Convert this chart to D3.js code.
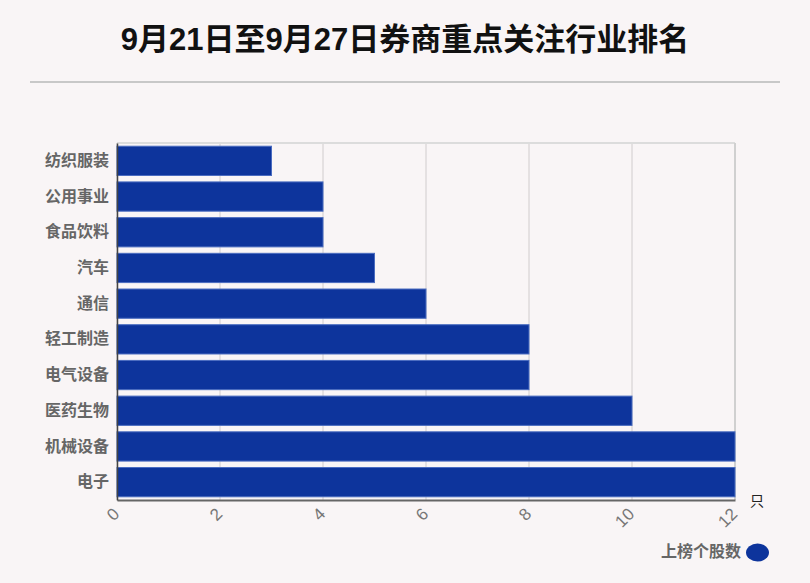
<!DOCTYPE html>
<html><head><meta charset="utf-8">
<script src="https://cdn.jsdelivr.net/npm/d3@7/dist/d3.min.js"></script>
<style>
html,body{margin:0;padding:0;background:#f9f5f6;}
svg{display:block;}
</style></head>
<body>
<svg id="c" width="810" height="583"></svg>
<script>
const categories = ["纺织服装","公用事业","食品饮料","汽车","通信","轻工制造","电气设备","医药生物","机械设备","电子"];
const values = [3,4,4,5,6,8,8,10,12,12];
const xTicks = [0,2,4,6,8,10,12];
const title = "9月21日至9月27日券商重点关注行业排名";
const seriesName = "上榜个股数";
const unit = "只";

const svg = d3.select("#c");
const W = 810, H = 583;
const m = {left:117, right:735, top:143, bottom:500};
const font = "'Liberation Sans','Noto Sans CJK SC',sans-serif";

svg.append("rect").attr("width",W).attr("height",H).attr("fill","#f9f5f6");

svg.append("text").attr("x",W/2).attr("y",50).attr("text-anchor","middle")
  .attr("font-family",font).attr("font-weight","bold").attr("font-size",31)
  .attr("fill","#111").text(title);
svg.append("line").attr("x1",30).attr("x2",780).attr("y1",82).attr("y2",82)
  .attr("stroke","#c8c8c8").attr("stroke-width",2);

const x = d3.scaleLinear().domain([0,12]).range([m.left,m.right]);
const y = d3.scaleBand().domain(categories).range([m.top,m.bottom]).paddingInner(0.18).paddingOuter(0.09);

// grid
const g = svg.append("g");
g.selectAll("line.grid").data(xTicks).enter().append("line")
  .attr("x1",d=>x(d)).attr("x2",d=>x(d)).attr("y1",m.top).attr("y2",m.bottom)
  .attr("stroke","#d0cccd").attr("stroke-width",1);
g.append("line").attr("x1",m.left).attr("x2",m.right).attr("y1",m.top).attr("y2",m.top)
  .attr("stroke","#dcdcdc").attr("stroke-width",2);
g.append("line").attr("x1",m.right).attr("x2",m.right).attr("y1",m.top).attr("y2",m.bottom)
  .attr("stroke","#d0d0d0").attr("stroke-width",2);

// bars
svg.append("g").selectAll("rect").data(categories).enter().append("rect")
  .attr("x",x(0)).attr("y",d=>y(d))
  .attr("width",(d,i)=>x(values[i])-x(0)).attr("height",y.bandwidth())
  .attr("fill","#0d349c").attr("stroke","#4a6cc0").attr("stroke-width",1);

// axes
const xAxis = svg.append("g").attr("transform",`translate(0,${m.bottom})`)
  .call(d3.axisBottom(x).tickValues(xTicks).tickSize(0).tickPadding(0));
xAxis.select(".domain").attr("stroke","#666").attr("stroke-width",2);
xAxis.selectAll(".tick text")
  .attr("font-family",font).attr("font-size",17).attr("fill","#777")
  .attr("text-anchor","end").attr("dy",0)
  .attr("transform","translate(3,15) rotate(-45)");

const yAxis = svg.append("g").attr("transform",`translate(${m.left},0)`)
  .call(d3.axisLeft(y).tickSize(0).tickPadding(8));
yAxis.select(".domain").attr("stroke","#444").attr("stroke-width",1.5);
yAxis.selectAll(".tick text").attr("font-family",font).attr("font-size",16)
  .attr("font-weight","bold").attr("fill","#666");

svg.append("text").attr("x",757).attr("y",506).attr("text-anchor","middle")
  .attr("font-family",font).attr("font-size",14).attr("fill","#222").text(unit);

// legend
svg.append("text").attr("x",741).attr("y",557).attr("text-anchor","end")
  .attr("font-family",font).attr("font-size",16).attr("font-weight","bold")
  .attr("fill","#666").text(seriesName);
svg.append("ellipse").attr("cx",757.5).attr("cy",552.5).attr("rx",11.5).attr("ry",9)
  .attr("fill","#0d349c");
</script>
</body></html>
